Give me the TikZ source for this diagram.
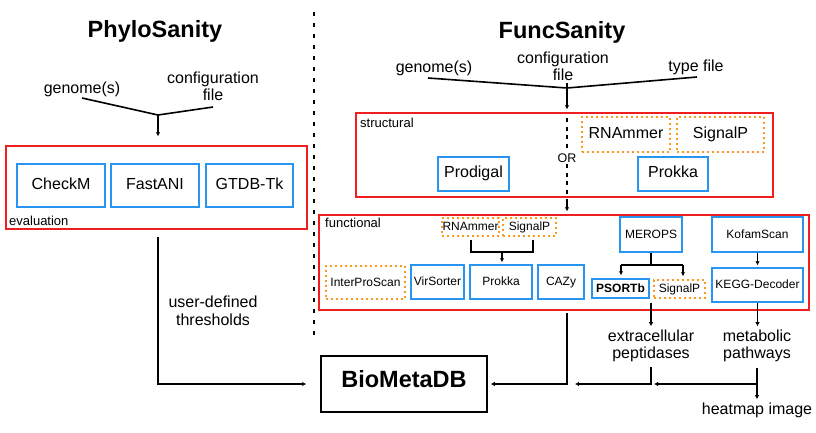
\documentclass[tikz,border=0pt]{standalone}
\usepackage{fontspec}
\setmainfont{Liberation Sans}
\usetikzlibrary{arrows.meta}
\definecolor{boxred}{RGB}{240,30,30}
\definecolor{boxblue}{RGB}{40,150,240}
\definecolor{boxorange}{RGB}{250,155,30}
\begin{document}
\begin{tikzpicture}[x=1pt,y=-1pt,
 redbox/.style={draw=boxred,line width=1.4pt,inner sep=0pt},
 bluebox/.style={draw=boxblue,line width=1.5pt,inner sep=0pt,text height=0.716em,text depth=0pt},
 orangebox/.style={draw=boxorange,line width=1.5pt,dash pattern=on 2pt off 3pt,inner sep=0pt,text height=0.716em,text depth=0pt},
 big/.style={font=\fontsize{16}{18}\selectfont},
 small/.style={font=\fontsize{12}{14}\selectfont},
 lbl/.style={font=\fontsize{13}{15}\selectfont,anchor=base west,inner sep=0pt},
 txt/.style={font=\fontsize{16}{18}\selectfont,anchor=base,inner sep=0pt},
 title/.style={font=\fontsize{23.5}{26}\selectfont\bfseries,anchor=base,inner sep=0pt},
 conn/.style={draw=black,line width=1.6pt},
 arr/.style={conn,-{Latex[length=4pt,width=4.5pt]}},
 divider/.style={line width=2pt,dash pattern=on 4pt off 7pt},
 ordots/.style={line width=1.8pt,dash pattern=on 4pt off 4.5pt},
]
\fill[white] (0,0) rectangle (816,432);
\useasboundingbox (0,0) rectangle (816,432);

% titles and divider
\node[title] (phylo) at (155,37) {PhyloSanity};
\node[title] (func) at (562,38) {FuncSanity};
\coordinate (divtop) at (314,12);
\coordinate (divbot) at (314,338);
\draw[divider] (divtop) -- (divbot);

% ---------- PhyloSanity ----------
\node[txt] (lgen) at (82,93) {genome(s)};
\node[txt] (lconf) at (213,83) {configuration};
\node[txt] (lfile) at (213,100) {file};
\coordinate (lg) at (82,98);
\coordinate (lc) at (213,107);
\coordinate (lj) at (158,115);
\node[redbox,minimum width=301pt,minimum height=83pt] (eval) at (156.5,187.5) {};
\draw[conn] (lg) -- (lj) -- (lc);
\draw[arr,shorten >=9pt] (lj) -- (lj |- eval.north);
\node[bluebox,big,minimum width=88pt,minimum height=43pt] (checkm) at (61,185.5) {CheckM};
\node[bluebox,big,minimum width=88pt,minimum height=43pt] (fastani) at (155,185.5) {FastANI};
\node[bluebox,big,minimum width=87pt,minimum height=43pt] (gtdb) at (249.5,185.5) {GTDB-Tk};
\node[lbl] (evallbl) at (9,225) {evaluation};

\node[draw,line width=1.5pt,minimum width=166pt,minimum height=56pt,inner sep=0pt,text height=0.716em,text depth=0pt,font=\fontsize{23.5}{26}\selectfont\bfseries] (bio) at (404,384) {BioMetaDB};
\coordinate (eo) at (158,237);
\draw[arr,shorten >=14pt] (eo) |- (bio.west);
\node[txt] (ud) at (213,307) {user-defined};
\node[txt] (th) at (213,325) {thresholds};

% ---------- FuncSanity ----------
\node[txt] (rgen) at (434,72) {genome(s)};
\node[txt] (rconf) at (563,63) {configuration};
\node[txt] (rfile) at (563,80) {file};
\node[txt] (rtype) at (696,71) {type file};
\coordinate (rg) at (428,78);
\coordinate (rt) at (697,77);
\coordinate (rj) at (567,88);
\coordinate (rc) at (567,83);
\node[redbox,minimum width=417pt,minimum height=84pt] (struct) at (564.5,155) {};
\draw[conn] (rg) -- (rj) -- (rt);
\draw[arr,shorten >=3pt] (rc) -- (rc |- struct.north);
\node[lbl] (structlbl) at (360,127) {structural};
\node[orangebox,big,minimum width=88pt,minimum height=35pt] (srna) at (626,134.5) {RNAmmer};
\node[orangebox,big,minimum width=87pt,minimum height=35pt] (ssig) at (720.5,134.5) {SignalP};
\node[bluebox,big,minimum width=71pt,minimum height=34pt] (prodigal) at (473.5,174) {Prodigal};
\node[bluebox,big,minimum width=70pt,minimum height=34pt] (sprokka) at (673,174) {Prokka};
\node[font=\fontsize{12.5}{14}\selectfont,inner sep=1.5pt] (or) at (567,158) {OR};
\coordinate (ot) at (567,118);
\draw[ordots] (ot) -- (or.north);
\draw[ordots] (or.south) -- (or.south |- struct.south);

\node[redbox,minimum width=490pt,minimum height=95pt] (funct) at (564,262.5) {};
\coordinate (sb) at (567,199);
\draw[arr,shorten >=3pt] (sb) -- (sb |- funct.north);
\node[lbl] (funclbl) at (325,227) {functional};

\node[orangebox,small,minimum width=57pt,minimum height=18pt] (frna) at (470.5,227) {RNAmmer};
\node[orangebox,small,minimum width=53pt,minimum height=18pt] (fsig) at (529.5,227) {SignalP};
\node[orangebox,small,minimum width=79pt,minimum height=33pt] (ips) at (365.5,282.5) {InterProScan};
\node[bluebox,small,minimum width=53pt,minimum height=34pt] (vir) at (437.5,282) {VirSorter};
\node[bluebox,small,minimum width=62pt,minimum height=34pt] (fprokka) at (501,282) {Prokka};
\node[bluebox,small,minimum width=46pt,minimum height=34pt] (cazy) at (561,282) {CAZy};
\node[bluebox,small,minimum width=62pt,minimum height=35pt] (merops) at (651,234.5) {MEROPS};
\node[bluebox,small,minimum width=91pt,minimum height=35pt] (kofam) at (757.5,234.5) {KofamScan};
\node[bluebox,minimum width=57pt,minimum height=19pt,font=\fontsize{12}{14}\selectfont\bfseries] (psortb) at (620.5,288.5) {PSORTb};
\node[orangebox,small,minimum width=51pt,minimum height=18pt] (fsig2) at (679.5,289) {SignalP};
\node[bluebox,small,minimum width=91pt,minimum height=34pt] (kegg) at (757.5,285) {KEGG-Decoder};

% bracket RNAmmer/SignalP -> Prokka
\coordinate (b1) at (471,252);
\coordinate (b2) at (533,252);
\coordinate (b3) at (502,252);
\draw[conn,shorten <=3pt,shorten >=3pt] (frna.south -| b1) -- (b1) -- (b2) -- (fsig.south -| b2);
\draw[arr,shorten >=2pt] (b3) -- (b3 |- fprokka.north);

% MEROPS bracket
\coordinate (m0) at (651,265);
\coordinate (m1) at (621,265);
\coordinate (m2) at (683,265);
\draw[conn] (merops.south) -- (m0);
\draw[conn] (m1) -- (m2);
\draw[arr,shorten >=3pt] (m1) -- (m1 |- psortb.north);
\draw[arr,shorten >=3pt] (m2) -- (m2 |- fsig2.north);
\draw[arr,shorten >=2pt] (kofam.south) -- (kegg.north);

% outputs
\node[txt] (extra) at (651,341) {extracellular};
\node[txt] (pept) at (651,358) {peptidases};
\node[txt] (metab) at (757,341) {metabolic};
\node[txt] (path) at (757,358) {pathways};
\node[txt] (heat) at (757,414) {heatmap image};
\coordinate (po) at (651,303);
\draw[arr,shorten >=3pt] (po) -- (po |- extra.north);
\draw[arr,shorten >=3pt] (kegg.south) -- (kegg.south |- metab.north);

\coordinate (fo) at (567,313);
\coordinate (fl) at (567,384);
\draw[arr,shorten >=3pt] (fo) |- (bio.east);
\coordinate (pb) at (651,367);
\draw[arr,shorten >=8pt] (pb) |- (fl);
\coordinate (mb) at (757,368);
\draw[arr,shorten >=3pt] (mb) -- (mb |- heat.north);
\coordinate (mj) at (757,384);
\draw[arr,shorten >=3pt] (mj) -- (pb |- mj);
\end{tikzpicture}
\end{document}
